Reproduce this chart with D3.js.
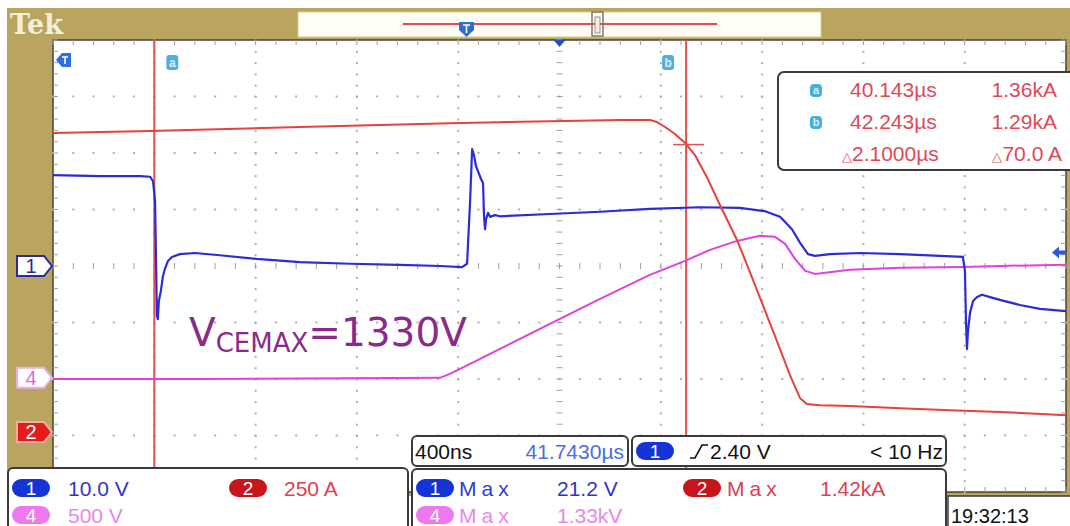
<!DOCTYPE html>
<html>
<head>
<meta charset="utf-8">
<script src="https://cdn.jsdelivr.net/npm/d3@7"></script>
<style>
body { margin: 0; background: #fff; }
svg { display: block; }
text { font-family: "Liberation Sans", Arial, sans-serif; }
</style>
</head>
<body>
<svg id="scope" width="1070" height="526"></svg>
<script>
// time is in ns from the left edge of the screen (400 ns/div, 10 div)
var ch1Time  = [0, 186, 344, 383, 395, 403, 407, 410, 414, 418, 426, 434, 442, 454, 470, 501, 561, 659, 817, 975, 1173, 1370, 1528, 1615, 1635, 1647, 1655, 1663, 1670, 1678, 1690, 1698, 1702, 1706, 1710, 1718, 1726, 1745, 1765, 1962, 2160, 2357, 2555, 2713, 2812, 2871, 2918, 2950, 2981, 3009, 3068, 3187, 3345, 3503, 3593, 3601, 3605, 3609, 3613, 3621, 3633, 3649, 3668, 3700, 3739, 3818, 3897, 4000];
var ch1Volts = [16.1, 15.9, 15.9, 15.8, 15.0, 11.5, 0.9, -8.8, -9.4, -6.2, -4.4, -1.8, -0.5, 0.9, 1.6, 2.1, 2.3, 1.9, 1.2, 0.7, 0.4, 0.2, 0.0, -0.2, 0.4, 11.5, 20.7, 19.5, 17.7, 16.8, 15.4, 14.7, 8.8, 6.5, 8.3, 9.4, 8.7, 9.0, 8.8, 9.2, 9.6, 10.1, 10.4, 10.3, 9.7, 8.7, 6.5, 4.1, 2.1, 1.8, 2.1, 2.3, 2.1, 1.8, 1.6, -0.9, -9.7, -14.7, -11.5, -8.3, -6.2, -5.5, -5.1, -5.5, -6.0, -6.9, -7.6, -8.0];

var ch2Time = [0, 383, 975, 1567, 1962, 2239, 2357, 2385, 2417, 2456, 2496, 2535, 2582, 2634, 2701, 2752, 2792, 2851, 2910, 2950, 2977, 3029, 3147, 3345, 3542, 3739, 4000];
var ch2Amps = [1323, 1332, 1350, 1367, 1376, 1381, 1381, 1372, 1350, 1319, 1279, 1226, 1128, 1004, 850, 708, 593, 425, 252, 150, 124, 119, 115, 106, 97, 89, 75];

var ch4Time  = [0, 580, 1528, 1567, 1647, 1765, 1962, 2160, 2357, 2496, 2594, 2701, 2792, 2851, 2891, 2930, 2970, 3009, 3147, 3345, 3593, 3739, 4000];
var ch4Volts = [-9, -9, 0, 35, 124, 257, 478, 699, 912, 1035, 1133, 1212, 1257, 1248, 1186, 1053, 947, 920, 956, 974, 982, 991, 1000];

// vertical settings: units per division and ground position (div from centre)
var chScale = { ch1: 10, ch2: 250, ch4: 500 };
var chPos   = { ch1: 0, ch2: -2.94, ch4: -1.98 };
var chColor = { ch1: "#2c2cd6", ch2: "#e8403c", ch4: "#e040e0" };

var cursorTimes = [400, 2500];
var cursorNames = ["a", "b"];
var cursorTimeText = ["40.143\u00b5s", "42.243\u00b5s", "2.1000\u00b5s"];
var cursorAmpText  = ["1.36kA", "1.29kA", "70.0 A"];
var trigLevel = 2.40;

const svg = d3.select("#scope");
const gLeft = 53, gRight = 1066, gTop = 40, gBottom = 492;
const khaki = "#b9a55f";

const xDiv = d3.scaleLinear().domain([0, 10]).range([gLeft, gRight]);
const yDiv = d3.scaleLinear().domain([-4, 4]).range([gBottom, gTop]);
const x = d3.scaleLinear().domain([0, 4000]).range([gLeft, gRight]);
function yOf(ch, v) { return yDiv(v / chScale[ch] + chPos[ch]); }

// frame
svg.append("rect").attr("x", 7).attr("y", 8).attr("width", 1063).attr("height", 488).attr("fill", khaki);
svg.append("text").attr("x", 10).attr("y", 34).text("Tek")
    .style("font-family", "DejaVu Serif").style("font-weight", "bold")
    .style("font-size", "27px").attr("fill", "#f4efdc");

// record view bar
svg.append("rect").attr("x", 298).attr("y", 12).attr("width", 523).attr("height", 25)
    .attr("fill", "#fffef6").attr("stroke", "#d8cc98");
svg.append("line").attr("x1", 403).attr("x2", 717).attr("y1", 24).attr("y2", 24)
    .attr("stroke", "#e84848").attr("stroke-width", 2);
svg.append("path").attr("d", "M459,22 L474,22 L474,30 L466.5,37 L459,30 Z").attr("fill", "#2d6fd0");
svg.append("path").attr("d", "M463,25 L470,25 M466.5,25 L466.5,33").attr("stroke", "#fff").attr("stroke-width", 1.6);
svg.append("rect").attr("x", 592).attr("y", 12).attr("width", 11).attr("height", 24)
    .attr("fill", "none").attr("stroke", "#857565").attr("stroke-width", 1.5);
svg.append("rect").attr("x", 595).attr("y", 17).attr("width", 5).attr("height", 16)
    .attr("fill", "#f2eee8").attr("stroke", "#a09080");

// graticule
svg.append("rect").attr("x", gLeft).attr("y", gTop).attr("width", gRight - gLeft).attr("height", gBottom - gTop)
    .attr("fill", "#fff").attr("stroke", "#4a4235").attr("stroke-width", 1.5);

const grid = svg.append("g").attr("fill", "#b0b0b0");
d3.range(1, 10).filter(i => i !== 5).forEach(i => {
    d3.range(0, 41).forEach(k => {
        grid.append("rect").attr("x", xDiv(i) - 1).attr("y", yDiv(-4 + k / 5) - 0.5).attr("width", 2).attr("height", 2);
    });
});
d3.range(-3, 4).filter(j => j !== 0).forEach(j => {
    d3.range(0, 51).forEach(k => {
        grid.append("rect").attr("x", xDiv(k / 5) - 1).attr("y", yDiv(j) - 1).attr("width", 2).attr("height", 2);
    });
});
const ticks = svg.append("g").attr("stroke", "#a0a0a0").attr("stroke-width", 1);
d3.range(0, 41).forEach(k => {
    let yy = yDiv(-4 + k / 5);
    ticks.append("line").attr("x1", xDiv(5) - 3).attr("x2", xDiv(5) + 3).attr("y1", yy).attr("y2", yy);
    ticks.append("line").attr("x1", gLeft).attr("x2", gLeft + 5).attr("y1", yy).attr("y2", yy);
    ticks.append("line").attr("x1", gRight - 5).attr("x2", gRight).attr("y1", yy).attr("y2", yy);
});
d3.range(0, 51).forEach(k => {
    let xx = xDiv(k / 5);
    ticks.append("line").attr("x1", xx).attr("x2", xx).attr("y1", yDiv(0) - 3).attr("y2", yDiv(0) + 3);
    ticks.append("line").attr("x1", xx).attr("x2", xx).attr("y1", gTop).attr("y2", gTop + 5);
    ticks.append("line").attr("x1", xx).attr("x2", xx).attr("y1", gBottom - 5).attr("y2", gBottom);
});

// cursors
cursorTimes.forEach((t, i) => {
    svg.append("line").attr("x1", x(t)).attr("x2", x(t)).attr("y1", gTop).attr("y2", gBottom)
        .attr("stroke", "#e4504e").attr("stroke-width", 2);
    let cx = i === 0 ? x(t) + 18 : x(t) - 18;
    svg.append("rect").attr("x", cx - 6).attr("y", 55).attr("width", 12).attr("height", 15).attr("rx", 3)
        .attr("fill", "#4fb0e0");
    svg.append("text").attr("x", cx).attr("y", 67).attr("text-anchor", "middle").text(cursorNames[i])
        .attr("fill", "#d6f2ff").style("font-size", "12px").style("font-weight", "bold");
});

// traces
svg.append("clipPath").attr("id", "clip").append("rect")
    .attr("x", gLeft).attr("y", gTop).attr("width", gRight - gLeft).attr("height", gBottom - gTop);
const traces = svg.append("g").attr("clip-path", "url(#clip)").attr("fill", "none");
function drawTrace(ch, times, vals, w) {
    const line = d3.line().x((d, i) => x(times[i])).y(d => yOf(ch, d));
    traces.append("path").attr("d", line(vals)).attr("stroke", chColor[ch])
        .attr("stroke-width", w).attr("stroke-linejoin", "round");
}
drawTrace("ch4", ch4Time, ch4Volts, 2);
drawTrace("ch1", ch1Time, ch1Volts, 2.2);
drawTrace("ch2", ch2Time, ch2Amps, 2);

// horizontal cursor mark at cursor b
svg.append("line").attr("x1", x(2500) - 13).attr("x2", x(2500) + 18)
    .attr("y1", yOf("ch2", 1290) + 4).attr("y2", yOf("ch2", 1290) + 4)
    .attr("stroke", "#e4504e").attr("stroke-width", 1.5);

// markers on the edges
svg.append("path").attr("d", "M56,60 L62,53 L71,53 L71,67 L62,67 Z").attr("fill", "#2e6ee0");
svg.append("path").attr("d", "M62,57 L68,57 M65,57 L65,64").attr("stroke", "#fff").attr("stroke-width", 1.6);
svg.append("path").attr("d", `M${xDiv(5) - 6},${gTop} L${xDiv(5) + 6},${gTop} L${xDiv(5)},${gTop + 7} Z`).attr("fill", "#2050d0");

function chanMarker(ch, lab, fill, stroke, tcol) {
    let yy = yDiv(chPos[ch]);
    svg.append("path").attr("d", `M17,${yy - 10} L44,${yy - 10} L52,${yy} L44,${yy + 10} L17,${yy + 10} Z`)
        .attr("fill", fill).attr("stroke", stroke).attr("stroke-width", 2);
    svg.append("text").attr("x", 31).attr("y", yy + 7).attr("text-anchor", "middle").text(lab)
        .attr("fill", tcol).style("font-size", "20px");
}
chanMarker("ch1", "1", "#fff", "#2a2aa0", "#2a2aa0");
chanMarker("ch4", "4", "#fff", "#e6b0e6", "#d070d0");
chanMarker("ch2", "2", "#e41c1c", "#f3b0a0", "#fff");

let ty = yOf("ch1", trigLevel);
svg.append("path").attr("d", `M1052,${ty} L1059,${ty - 6} L1059,${ty - 2} L1066,${ty - 2} L1066,${ty + 2} L1059,${ty + 2} L1059,${ty + 6} Z`)
    .attr("fill", "#2a5ad8");

// annotation
svg.append("text").attr("x", 189).attr("y", 346).attr("fill", "#8a2a8c")
    .style("font-family", "DejaVu Sans").style("font-size", "39px")
    .call(t => {
        t.append("tspan").text("V");
        t.append("tspan").attr("dy", 6).style("font-size", "26px").text("CEMAX");
        t.append("tspan").attr("dy", -6).text("=1330V");
    });

// cursor readout box
svg.append("rect").attr("x", 778).attr("y", 72).attr("width", 300).attr("height", 98).attr("rx", 6)
    .attr("fill", "#fff").attr("stroke", "#3a3a3a").attr("stroke-width", 2);
[0, 1, 2].forEach(r => {
    let by = 97 + r * 32;
    if (r < 2) {
        svg.append("rect").attr("x", 810).attr("y", by - 13).attr("width", 12).attr("height", 13).attr("rx", 4).attr("fill", "#45b0e0");
        svg.append("text").attr("x", 816).attr("y", by - 3).attr("text-anchor", "middle").text(cursorNames[r])
            .attr("fill", "#d6f2ff").style("font-size", "11px").style("font-weight", "bold");
    }
    let t1 = svg.append("text").attr("x", r < 2 ? 850 : 842).attr("y", by)
        .attr("fill", "#e04858").style("font-size", "21px");
    let t2 = svg.append("text").attr("x", r < 2 ? 1057 : 1062).attr("y", by).attr("text-anchor", "end")
        .attr("fill", "#e04858").style("font-size", "21px");
    if (r === 2) {
        t1.append("tspan").style("font-size", "13px").text("\u25b3");
        t2.append("tspan").style("font-size", "13px").text("\u25b3");
    }
    t1.append("tspan").text(cursorTimeText[r]);
    t2.append("tspan").text(cursorAmpText[r]);
});

// bottom readouts
function box(bx, by, bw, bh) {
    svg.append("rect").attr("x", bx).attr("y", by).attr("width", bw).attr("height", bh).attr("rx", 5)
        .attr("fill", "#fff").attr("stroke", "#3a3a3a").attr("stroke-width", 2);
}
function pill(px, py, lab, fill) {
    svg.append("rect").attr("x", px).attr("y", py - 9).attr("width", 38).attr("height", 18).attr("rx", 9).attr("fill", fill);
    svg.append("text").attr("x", px + 19).attr("y", py + 7).attr("text-anchor", "middle").text(lab)
        .attr("fill", "#fff").style("font-size", "19px");
}
function label(tx, tyy, s, col, anchor, extra) {
    let t = svg.append("text").attr("x", tx).attr("y", tyy).text(s).attr("fill", col).style("font-size", "21px");
    if (anchor) t.attr("text-anchor", anchor);
    if (extra) t.style("letter-spacing", extra);
    return t;
}

box(8, 468, 400, 70);
pill(12, 488, "1", "#1434d8"); label(68, 496, "10.0 V", "#3434c4");
pill(229, 488, "2", "#c8141c"); label(284, 496, "250 A", "#e04050");
pill(12, 515, "4", "#ee78ee"); label(68, 523, "500 V", "#e888e8");

box(412, 436, 216, 30);
label(415, 459, "400ns", "#111");
label(624, 459, "41.7430\u00b5s", "#4a70e0", "end");

box(632, 436, 314, 30);
pill(636, 451, "1", "#1434d8");
svg.append("path").attr("d", "M690,458 L695,458 L702,445 L708,445").attr("fill", "none").attr("stroke", "#111").attr("stroke-width", 1.6);
label(710, 459, "2.40 V", "#111");
label(943, 459, "< 10 Hz", "#111", "end");

box(412, 469, 534, 70);
pill(416, 488, "1", "#1434d8"); label(459, 496, "Max", "#3040d0", null, "5px"); label(557, 496, "21.2 V", "#3434c4");
pill(683, 488, "2", "#c8141c"); label(727, 496, "Max", "#e04050", null, "5px"); label(820, 496, "1.42kA", "#e04050");
pill(416, 515, "4", "#ee78ee"); label(459, 523, "Max", "#e888e8", null, "5px"); label(557, 523, "1.33kV", "#e888e8");

svg.append("rect").attr("x", 948).attr("y", 496).attr("width", 130).attr("height", 40)
    .attr("fill", "#fff").attr("stroke", "#3a3a3a").attr("stroke-width", 1.5);
svg.append("text").attr("x", 951).attr("y", 523).text("19:32:13").attr("fill", "#111").style("font-size", "20px");
</script>
</body>
</html>
